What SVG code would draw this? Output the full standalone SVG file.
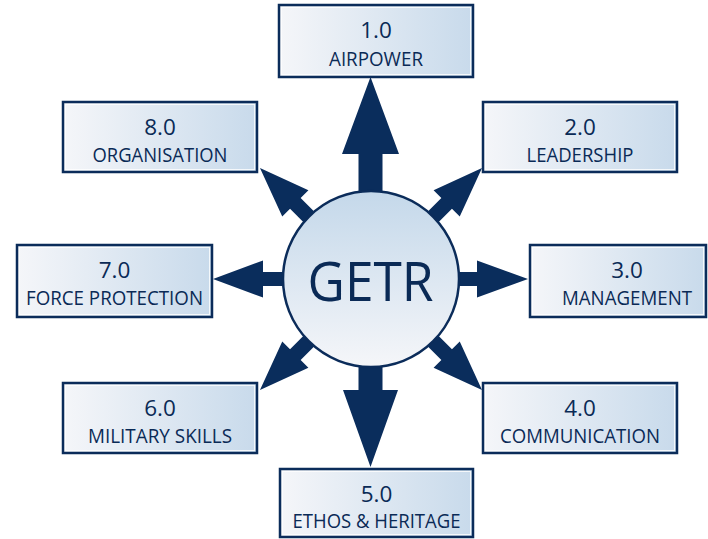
<svg xmlns="http://www.w3.org/2000/svg" width="708" height="539" viewBox="0 0 708 539">
  <defs>
    <linearGradient id="boxGrad" x1="0" y1="0" x2="1" y2="0">
      <stop offset="0" stop-color="#f5f6f9"/>
      <stop offset="1" stop-color="#c8daeb"/>
    </linearGradient>
    <linearGradient id="circGrad" x1="0" y1="0" x2="0" y2="1">
      <stop offset="0" stop-color="#c4d8ea"/>
      <stop offset="1" stop-color="#f5f6f9"/>
    </linearGradient>
    <polygon id="smallArrow" points="60,-7.5 107,-7.5 107,-18.5 157,0 107,18.5 107,7.5 60,7.5"/>
  </defs>
  <style>
    .box { fill: url(#boxGrad); stroke: #0b2c5a; stroke-width: 2.5; }
    .inner { fill: none; stroke: #ffffff; stroke-width: 1; stroke-opacity: 0.8; }
    .num { font-family: "Open Sans", "Liberation Sans", sans-serif; font-size: 22.5px; fill: #0a2a56; text-anchor: middle; }
    .lbl { font-family: "Open Sans", "Liberation Sans", sans-serif; font-size: 19.5px; fill: #0a2a56; text-anchor: middle; }
    .arrow { fill: #0a2d5c; }
  </style>
  <rect width="708" height="539" fill="#ffffff"/>

  <g id="connectors" class="arrow">
    <polygon points="358.5,222 358.5,154 342,154 370.5,77 399,154 382.5,154 382.5,222"/>
    <polygon points="358.5,336 358.5,390 343,390 370.5,467 398,390 382.5,390 382.5,336"/>
    <polygon points="310,272 263,272 263,260.5 213,279 263,297.5 263,286 310,286"/>
    <polygon points="432,272 477,272 477,260.5 528,279 477,297.5 477,286 432,286"/>
    <use href="#smallArrow" transform="translate(371,279) rotate(-45)"/>
    <use href="#smallArrow" transform="translate(371,279) rotate(45)"/>
    <use href="#smallArrow" transform="translate(371,279) rotate(135)"/>
    <use href="#smallArrow" transform="translate(371,279) rotate(-135)"/>
  </g>

  <g id="getr">
    <circle cx="371" cy="279" r="88" fill="url(#circGrad)" stroke="#0b2c5a" stroke-width="2.5"/>
    <text x="370.5" y="301" font-family="'Open Sans', 'Liberation Sans', sans-serif" font-size="55" fill="#0a2a56" text-anchor="middle" textLength="126" lengthAdjust="spacingAndGlyphs">GETR</text>
  </g>

  <g id="node1">
    <rect class="box" x="279" y="5" width="194" height="72"/>
    <rect class="inner" x="281.5" y="7.5" width="189" height="67"/>
    <text class="num" x="376" y="38">1.0</text>
    <text class="lbl" x="376" y="66" textLength="94" lengthAdjust="spacingAndGlyphs">AIRPOWER</text>
  </g>
  <g id="node2">
    <rect class="box" x="483" y="102" width="194" height="70"/>
    <rect class="inner" x="485.5" y="104.5" width="189" height="65"/>
    <text class="num" x="580" y="135">2.0</text>
    <text class="lbl" x="580" y="162" textLength="107" lengthAdjust="spacingAndGlyphs">LEADERSHIP</text>
  </g>
  <g id="node3">
    <rect class="box" x="530" y="245" width="176" height="72"/>
    <rect class="inner" x="532.5" y="247.5" width="171" height="67"/>
    <text class="num" x="627" y="278">3.0</text>
    <text class="lbl" x="627" y="305" textLength="130" lengthAdjust="spacingAndGlyphs">MANAGEMENT</text>
  </g>
  <g id="node4">
    <rect class="box" x="483" y="383" width="194" height="70"/>
    <rect class="inner" x="485.5" y="385.5" width="189" height="65"/>
    <text class="num" x="580" y="416">4.0</text>
    <text class="lbl" x="580" y="443" textLength="160" lengthAdjust="spacingAndGlyphs">COMMUNICATION</text>
  </g>
  <g id="node5">
    <rect class="box" x="280" y="469" width="193" height="68"/>
    <rect class="inner" x="282.5" y="471.5" width="188" height="63"/>
    <text class="num" x="376.5" y="502">5.0</text>
    <text class="lbl" x="376.5" y="528" textLength="168" lengthAdjust="spacingAndGlyphs">ETHOS &amp; HERITAGE</text>
  </g>
  <g id="node6">
    <rect class="box" x="63" y="383" width="194" height="70"/>
    <rect class="inner" x="65.5" y="385.5" width="189" height="65"/>
    <text class="num" x="160" y="416">6.0</text>
    <text class="lbl" x="160" y="443" textLength="144" lengthAdjust="spacingAndGlyphs">MILITARY SKILLS</text>
  </g>
  <g id="node7">
    <rect class="box" x="17" y="245" width="195" height="72"/>
    <rect class="inner" x="19.5" y="247.5" width="190" height="67"/>
    <text class="num" x="114.5" y="278">7.0</text>
    <text class="lbl" x="114.5" y="305" textLength="177" lengthAdjust="spacingAndGlyphs">FORCE PROTECTION</text>
  </g>
  <g id="node8">
    <rect class="box" x="63" y="102" width="194" height="70"/>
    <rect class="inner" x="65.5" y="104.5" width="189" height="65"/>
    <text class="num" x="160" y="135">8.0</text>
    <text class="lbl" x="160" y="162" textLength="135" lengthAdjust="spacingAndGlyphs">ORGANISATION</text>
  </g>
</svg>
